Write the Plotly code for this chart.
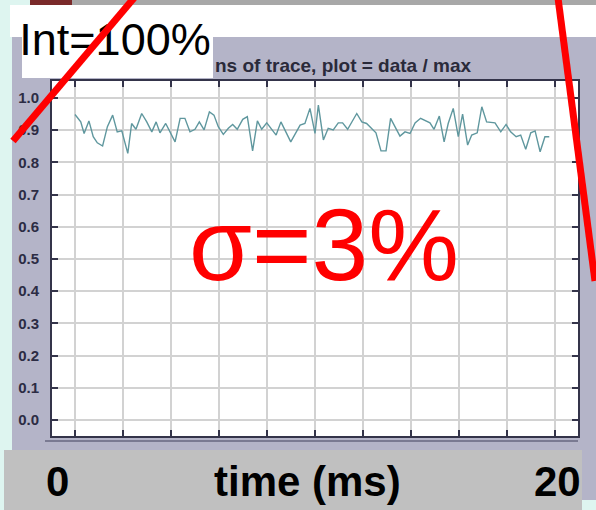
import plotly.graph_objects as go

# Normalised trace (data / max) over a 20 ms window
time_ms = [0.00, 0.24, 0.38, 0.58, 0.76, 0.93, 1.15, 1.35, 1.57, 1.76, 1.95, 2.20, 2.36, 2.54,
           2.78, 2.99, 3.20, 3.38, 3.54, 3.78, 4.17, 4.38, 4.58, 4.79, 5.00, 5.18, 5.38, 5.60,
           5.79, 5.97, 6.18, 6.39, 6.57, 6.76, 6.99, 7.18, 7.40, 7.60, 7.78, 7.99, 8.38, 8.58,
           8.99, 9.38, 9.58, 9.79, 10.00, 10.14, 10.35, 10.55, 10.76, 10.97, 11.15, 11.36,
           11.74, 11.95, 12.15, 12.54, 12.75, 12.96, 13.15, 13.33, 13.54, 13.75, 13.96, 14.17,
           14.40, 14.79, 14.96, 15.18, 15.38, 15.55, 15.76, 15.97, 16.15, 16.36, 16.53, 16.76,
           16.95, 17.15, 17.50, 17.74, 17.96, 18.15, 18.38, 18.57, 18.78, 18.99, 19.17, 19.38,
           19.58, 19.76]
signal = [0.949, 0.926, 0.890, 0.929, 0.880, 0.861, 0.851, 0.911, 0.947, 0.895, 0.898, 0.828,
          0.921, 0.903, 0.952, 0.926, 0.895, 0.926, 0.892, 0.921, 0.864, 0.937, 0.937, 0.895,
          0.903, 0.926, 0.901, 0.957, 0.947, 0.911, 0.887, 0.906, 0.918, 0.903, 0.934, 0.942,
          0.836, 0.929, 0.903, 0.923, 0.885, 0.926, 0.864, 0.916, 0.921, 0.968, 0.890, 0.978,
          0.870, 0.906, 0.901, 0.923, 0.923, 0.903, 0.952, 0.926, 0.921, 0.892, 0.836, 0.836,
          0.937, 0.911, 0.882, 0.895, 0.890, 0.923, 0.937, 0.923, 0.903, 0.944, 0.864, 0.921,
          0.968, 0.880, 0.950, 0.854, 0.885, 0.892, 0.973, 0.926, 0.923, 0.895, 0.918, 0.895,
          0.880, 0.885, 0.841, 0.892, 0.898, 0.833, 0.880, 0.880]

y_ticks = [1.0, 0.9, 0.8, 0.7, 0.6, 0.5, 0.4, 0.3, 0.2, 0.1, 0.0]
title_text = "ns of trace, plot = data / max"
intensity_label = "Int=100%"
sigma_label = "σ=3%"
axis_labels = ["0", "time (ms)", "20"]

W, H = 596, 510
# plot box in page pixels
PL, PR, PT, PB = 52, 578, 81, 436

CYAN = "#def5f0"
LAVENDER = "#b4b4c8"
BAND = "#c0c0c0"
FRAME = "#34344a"


def px(x):
    return x / W


def py(y):
    return 1 - y / H


fig = go.Figure()

fig.add_trace(go.Scatter(
    x=time_ms, y=signal, mode="lines",
    line=dict(color="#5f979e", width=1.4),
    xaxis="x", yaxis="y", hoverinfo="skip", showlegend=False,
))

# overlay layer in page pixels for the slide label
fig.add_trace(go.Scatter(
    x=[115], y=[44], mode="text", text=[intensity_label],
    textposition="middle center",
    textfont=dict(family="Liberation Sans", size=45, color="#000000"),
    xaxis="x2", yaxis="y2", hoverinfo="skip", showlegend=False,
))

shapes = []


def rect(x0, y0, x1, y1, color, layer="below"):
    shapes.append(dict(type="rect", xref="paper", yref="paper",
                       x0=px(x0), y0=py(y0), x1=px(x1), y1=py(y1),
                       fillcolor=color, line=dict(width=0), layer=layer))


rect(12, 37, W, 500, LAVENDER)          # chart panel
rect(PL, PT, PR, PB, "#ffffff")         # plot area
rect(10, 5, W, 37, "#ffffff")           # slide strip
rect(30, 0, W, 5, "#a8a8a8")            # top bar
rect(30, 0, 72, 5, "#7a2a2a")
rect(22, 20, 213, 78, "#ffffff")        # label box
rect(4, 450, 582, 510, BAND)            # axis caption band
shapes.append(dict(type="line", xref="paper", yref="paper",
                   x0=px(45), y0=py(441), x1=px(578), y1=py(441),
                   line=dict(color="#7a7a92", width=2), layer="below"))

# red pointer lines
shapes.append(dict(type="line", xref="paper", yref="paper",
                   x0=px(13), y0=py(141), x1=px(134), y1=py(-2),
                   line=dict(color="#ff0000", width=7), layer="above"))
shapes.append(dict(type="line", xref="paper", yref="paper",
                   x0=px(558), y0=py(-2), x1=px(595), y1=py(281),
                   line=dict(color="#ff0000", width=7), layer="above"))

annotations = [
    dict(xref="paper", yref="paper", x=px(473), y=py(66), text=title_text, showarrow=False,
         xanchor="right", yanchor="middle",
         font=dict(family="Liberation Sans", size=19, color="#2a2a3a", weight="bold")),
    dict(xref="paper", yref="paper", x=px(324), y=py(245), text=sigma_label, showarrow=False,
         xanchor="center", yanchor="middle",
         font=dict(family="Liberation Sans", size=102, color="#ff0000")),
]
for txt, xc in zip(axis_labels, [57, 307, 557]):
    annotations.append(dict(xref="paper", yref="paper", x=px(xc), y=py(481), text=txt,
                            showarrow=False, xanchor="center", yanchor="middle",
                            font=dict(family="Liberation Sans", size=42, color="#000000",
                                      weight="bold")))

fig.update_layout(
    width=W, height=H,
    margin=dict(l=0, r=0, t=0, b=0),
    paper_bgcolor=CYAN,
    plot_bgcolor="rgba(0,0,0,0)",
    showlegend=False,
    shapes=shapes,
    annotations=annotations,
    xaxis=dict(
        domain=[PL / W, PR / W], anchor="y",
        range=[-0.958, 20.958], dtick=2, tick0=0,
        showgrid=True, gridcolor="#d2d2d2", gridwidth=1.5, zeroline=False,
        showline=True, linecolor=FRAME, linewidth=2, mirror="ticks",
        ticks="inside", ticklen=6, tickwidth=1.5, tickcolor=FRAME,
        showticklabels=False,
    ),
    yaxis=dict(
        domain=[(H - PB) / H, (H - PT) / H], anchor="x",
        range=[-0.050, 1.053], tickvals=y_ticks, tickformat=".1f",
        showgrid=True, gridcolor="#d2d2d2", gridwidth=1.5, zeroline=False,
        showline=True, linecolor=FRAME, linewidth=2, mirror="ticks",
        ticks="inside", ticklen=6, tickwidth=1.5, tickcolor=FRAME,
        ticklabelstandoff=8,
        tickfont=dict(family="Liberation Sans", size=15, color="#2c2c44", weight="bold"),
    ),
    xaxis2=dict(domain=[0, 1], anchor="y2", range=[0, W], visible=False, fixedrange=True),
    yaxis2=dict(domain=[0, 1], anchor="x2", range=[H, 0], visible=False, fixedrange=True),
)

fig.write_html("out.html", config={"displayModeBar": False})
